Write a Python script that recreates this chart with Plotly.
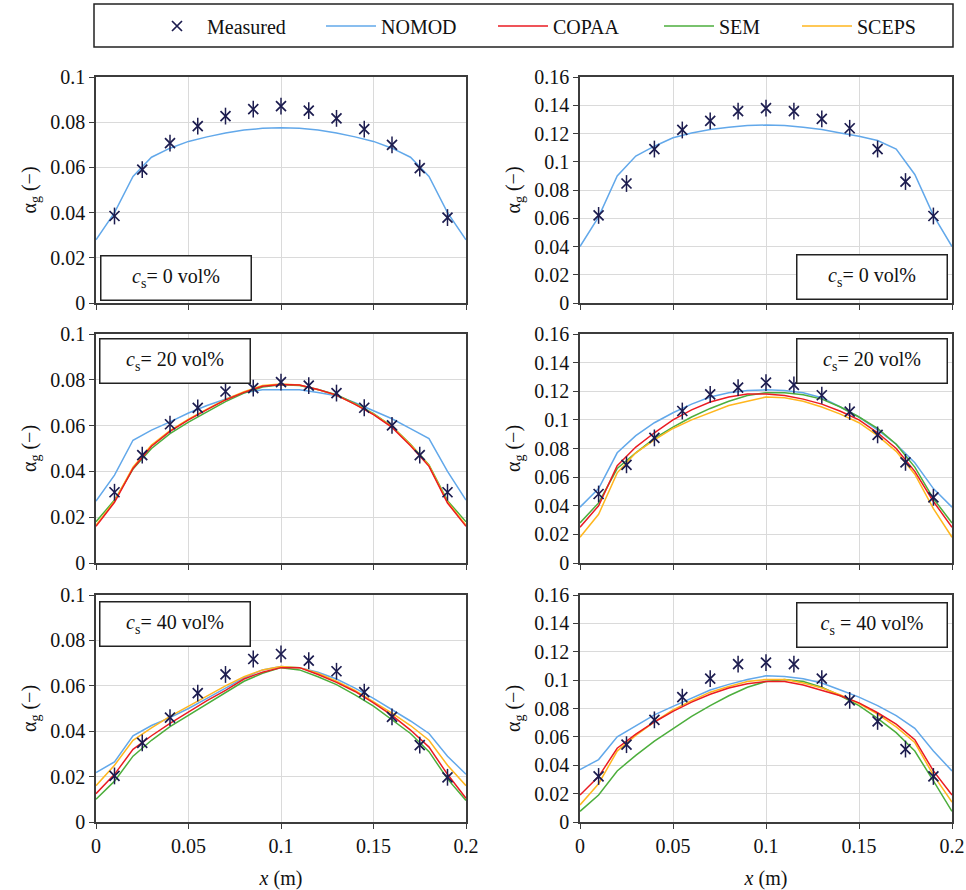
import plotly.graph_objects as go

# ---------------- data ----------------
X_MEAS = [0.01, 0.025, 0.04, 0.055, 0.07, 0.085, 0.1, 0.115, 0.13, 0.145, 0.16, 0.175, 0.19]
X_MODEL = [0.0, 0.01, 0.02, 0.03, 0.04, 0.05, 0.06, 0.07, 0.08, 0.09, 0.1,
           0.11, 0.12, 0.13, 0.14, 0.15, 0.16, 0.17, 0.18, 0.19, 0.2]

# cs = 0 vol%, left column
MEAS_L0 = [0.0385, 0.059, 0.0707, 0.0783, 0.0827, 0.0858, 0.0871, 0.0851, 0.0817, 0.0769, 0.0700, 0.0597, 0.0378]
NOMOD_L0 = [0.028, 0.040, 0.056, 0.0645, 0.0685, 0.0715, 0.0735, 0.0752, 0.0765, 0.0773, 0.0775,
            0.0773, 0.0765, 0.0752, 0.0735, 0.0715, 0.0685, 0.0645, 0.056, 0.040, 0.028]
# cs = 0 vol%, right column
MEAS_R0 = [0.062, 0.0846, 0.109, 0.1225, 0.129, 0.1358, 0.1379, 0.1358, 0.1303, 0.1237, 0.109, 0.086, 0.0616]
NOMOD_R0 = [0.040, 0.061, 0.090, 0.104, 0.111, 0.117, 0.1204, 0.1228, 0.1244, 0.1256, 0.126,
            0.1256, 0.1244, 0.1228, 0.1204, 0.118, 0.115, 0.109, 0.091, 0.062, 0.040]

# cs = 20 vol%, left column
MEAS_L20 = [0.0309, 0.0471, 0.0606, 0.0677, 0.0749, 0.0764, 0.079, 0.0775, 0.0742, 0.0678, 0.0601, 0.0471, 0.0309]
NOMOD_L20 = [0.027, 0.0384, 0.0536, 0.058, 0.0616, 0.0655, 0.0688, 0.0717, 0.0743, 0.0757, 0.0758,
             0.0757, 0.0745, 0.073, 0.070, 0.0665, 0.063, 0.0587, 0.0543, 0.040, 0.0275]
COPAA_L20 = [0.016, 0.0265, 0.0413, 0.051, 0.0575, 0.0625, 0.067, 0.0712, 0.0745, 0.0772, 0.078,
             0.0777, 0.0758, 0.0733, 0.0693, 0.0648, 0.0592, 0.0512, 0.0422, 0.0262, 0.016]
SEM_L20 = [0.018, 0.0275, 0.041, 0.050, 0.0565, 0.0615, 0.066, 0.0705, 0.0742, 0.0768, 0.0778,
           0.0775, 0.0758, 0.0735, 0.0697, 0.0652, 0.0597, 0.0518, 0.0428, 0.0272, 0.018]
SCEPS_L20 = [0.0165, 0.027, 0.0418, 0.0515, 0.0578, 0.0628, 0.0672, 0.0714, 0.0748, 0.0775, 0.0782,
             0.0777, 0.0757, 0.0732, 0.0694, 0.065, 0.0596, 0.0516, 0.0426, 0.0266, 0.0165]
# cs = 20 vol%, right column
MEAS_R20 = [0.0482, 0.0686, 0.0874, 0.1062, 0.1178, 0.1225, 0.126, 0.1245, 0.1172, 0.1058, 0.0895, 0.0703, 0.0459]
NOMOD_R20 = [0.039, 0.052, 0.077, 0.089, 0.098, 0.105, 0.111, 0.116, 0.119, 0.1205, 0.121,
             0.1205, 0.119, 0.1155, 0.109, 0.102, 0.093, 0.083, 0.070, 0.052, 0.039]
COPAA_R20 = [0.025, 0.040, 0.068, 0.081, 0.091, 0.100, 0.107, 0.1125, 0.116, 0.118, 0.118,
             0.117, 0.1145, 0.111, 0.106, 0.100, 0.091, 0.080, 0.064, 0.043, 0.025]
SEM_R20 = [0.028, 0.042, 0.066, 0.077, 0.087, 0.095, 0.102, 0.108, 0.113, 0.117, 0.119,
           0.119, 0.1175, 0.1145, 0.109, 0.102, 0.094, 0.083, 0.067, 0.045, 0.028]
SCEPS_R20 = [0.018, 0.034, 0.063, 0.077, 0.086, 0.094, 0.100, 0.105, 0.110, 0.113, 0.116,
             0.1155, 0.113, 0.109, 0.104, 0.098, 0.089, 0.078, 0.062, 0.038, 0.018]

# cs = 40 vol%, left column
MEAS_L40 = [0.0203, 0.0349, 0.046, 0.0568, 0.065, 0.0718, 0.074, 0.0711, 0.0664, 0.0572, 0.0463, 0.0339, 0.0197]
NOMOD_L40 = [0.0218, 0.0265, 0.038, 0.0425, 0.046, 0.050, 0.0545, 0.059, 0.0635, 0.067, 0.0685,
             0.068, 0.066, 0.063, 0.059, 0.0545, 0.0495, 0.0445, 0.039, 0.029, 0.021]
COPAA_L40 = [0.0125, 0.021, 0.032, 0.038, 0.0435, 0.0485, 0.0535, 0.058, 0.063, 0.066, 0.068,
             0.068, 0.065, 0.0615, 0.0575, 0.0525, 0.047, 0.0405, 0.033, 0.021, 0.0105]
SEM_L40 = [0.010, 0.018, 0.029, 0.036, 0.042, 0.047, 0.052, 0.057, 0.062, 0.0655, 0.068,
           0.067, 0.064, 0.0605, 0.056, 0.051, 0.045, 0.039, 0.031, 0.019, 0.0095]
SCEPS_L40 = [0.016, 0.025, 0.036, 0.0415, 0.0465, 0.051, 0.0555, 0.060, 0.064, 0.067, 0.0685,
             0.068, 0.0655, 0.062, 0.058, 0.053, 0.048, 0.0425, 0.036, 0.025, 0.016]
# cs = 40 vol%, right column
MEAS_R40 = [0.0321, 0.0545, 0.072, 0.088, 0.101, 0.1113, 0.1124, 0.1113, 0.101, 0.0857, 0.0709, 0.0514, 0.0321]
NOMOD_R40 = [0.0369, 0.044, 0.060, 0.068, 0.0755, 0.0815, 0.0875, 0.093, 0.097, 0.1005, 0.103,
             0.1025, 0.101, 0.098, 0.093, 0.088, 0.082, 0.075, 0.066, 0.050, 0.036]
COPAA_R40 = [0.019, 0.032, 0.052, 0.062, 0.0705, 0.078, 0.0845, 0.090, 0.0945, 0.0975, 0.099,
             0.099, 0.0965, 0.093, 0.089, 0.084, 0.077, 0.069, 0.058, 0.036, 0.019]
SEM_R40 = [0.0075, 0.019, 0.036, 0.047, 0.057, 0.066, 0.0745, 0.082, 0.089, 0.095, 0.099,
           0.1005, 0.099, 0.095, 0.089, 0.082, 0.073, 0.063, 0.050, 0.029, 0.0075]
SCEPS_R40 = [0.012, 0.027, 0.050, 0.061, 0.0705, 0.079, 0.0855, 0.0915, 0.0955, 0.099, 0.1005,
             0.1005, 0.098, 0.0945, 0.0895, 0.0835, 0.076, 0.067, 0.056, 0.033, 0.014]

PANEL_LABELS = ["<i>c</i><sub>s</sub>= 0 vol%", "<i>c</i><sub>s</sub>= 0 vol%",
                "<i>c</i><sub>s</sub>= 20 vol%", "<i>c</i><sub>s</sub>= 20 vol%",
                "<i>c</i><sub>s</sub>= 40 vol%", "<i>c</i><sub>s</sub> = 40 vol%"]
SERIES_NAMES = ["Measured", "NOMOD", "COPAA", "SEM", "SCEPS"]
X_TICKS = [0, 0.05, 0.1, 0.15, 0.2]
Y_MAX = [0.1, 0.16]

# ---------------- styles ----------------
W, H = 966, 890
FONT = "'Liberation Serif', 'Times New Roman', 'DejaVu Serif', serif"
TXT = "#111111"
COLORS = {"Measured": "#1c1c4f", "NOMOD": "#62a8ea", "COPAA": "#ea1b22",
          "SEM": "#4cae3c", "SCEPS": "#ffb61e"}
AXIS_COLOR = "#3c3c3c"
GRID_COLOR = "#dadada"

def fx(p):
    return p / W

def fy(p):
    return 1 - p / H

col_px = [(96, 466), (580, 952)]
row_px = [(77, 303), (334, 563), (595, 822)]

panels = [
    (0, 0, MEAS_L0, {"NOMOD": NOMOD_L0}),
    (0, 1, MEAS_R0, {"NOMOD": NOMOD_R0}),
    (1, 0, MEAS_L20, {"NOMOD": NOMOD_L20, "COPAA": COPAA_L20, "SEM": SEM_L20, "SCEPS": SCEPS_L20}),
    (1, 1, MEAS_R20, {"NOMOD": NOMOD_R20, "COPAA": COPAA_R20, "SEM": SEM_R20, "SCEPS": SCEPS_R20}),
    (2, 0, MEAS_L40, {"NOMOD": NOMOD_L40, "COPAA": COPAA_L40, "SEM": SEM_L40, "SCEPS": SCEPS_L40}),
    (2, 1, MEAS_R40, {"NOMOD": NOMOD_R40, "COPAA": COPAA_R40, "SEM": SEM_R40, "SCEPS": SCEPS_R40}),
]

box_px = [(100, 255), (796, 254), (99, 338), (796, 338), (99, 601), (796, 602)]

legend_ids = {"Measured": "legend", "NOMOD": "legend2", "COPAA": "legend3",
              "SEM": "legend4", "SCEPS": "legend5"}
legend_item_x = {"Measured": 147, "NOMOD": 321, "COPAA": 493, "SEM": 659, "SCEPS": 797}

fig = go.Figure()
shown = set()
layout = {}
annotations = []

for i, (r, c, meas, models) in enumerate(panels):
    n = i + 1
    xa = "x" if n == 1 else f"x{n}"
    ya = "y" if n == 1 else f"y{n}"
    for name in ["NOMOD", "SEM", "SCEPS", "COPAA"]:
        if name not in models:
            continue
        show = name not in shown
        shown.add(name)
        fig.add_trace(go.Scatter(
            x=X_MODEL, y=models[name], mode="lines", name=name,
            line=dict(color=COLORS[name], width=1.5),
            xaxis=xa, yaxis=ya, showlegend=show, legend=legend_ids[name]))
    show = "Measured" not in shown
    shown.add("Measured")
    fig.add_trace(go.Scatter(
        x=X_MEAS, y=meas, mode="markers", name="Measured",
        marker=dict(symbol="x-thin-open", size=10, color=COLORS["Measured"],
                    line=dict(width=1.7, color=COLORS["Measured"])),
        xaxis=xa, yaxis=ya, showlegend=show, legend="legend"))
    fig.add_trace(go.Scatter(
        x=X_MEAS, y=meas, mode="markers", name="Measured",
        marker=dict(symbol="line-ns-open", size=12, color=COLORS["Measured"],
                    line=dict(width=1.5, color=COLORS["Measured"])),
        xaxis=xa, yaxis=ya, showlegend=False, hoverinfo="skip"))

    x0, x1 = col_px[c]
    y0, y1 = row_px[r]
    xkey = "xaxis" if n == 1 else f"xaxis{n}"
    ykey = "yaxis" if n == 1 else f"yaxis{n}"
    layout[xkey] = dict(
        domain=[fx(x0), fx(x1)], anchor=ya, range=[0, 0.2],
        tickvals=X_TICKS, showticklabels=(r == 2),
        ticks="outside", ticklen=5, tickwidth=1.2, tickcolor=AXIS_COLOR,
        showline=True, linecolor=AXIS_COLOR, linewidth=1.5, mirror=True,
        showgrid=True, gridcolor=GRID_COLOR, gridwidth=1, zeroline=False,
        automargin=False,
        tickfont=dict(family=FONT, size=20, color=TXT),
        title=dict(text="<i>x</i> (m)" if r == 2 else "",
                   font=dict(family=FONT, size=20, color=TXT), standoff=15),
    )
    layout[ykey] = dict(
        domain=[fy(y1), fy(y0)], anchor=xa, range=[0, Y_MAX[c]], dtick=0.02,
        ticks="outside", ticklen=5, tickwidth=1.2, tickcolor=AXIS_COLOR,
        showline=True, linecolor=AXIS_COLOR, linewidth=1.5, mirror=True,
        showgrid=True, gridcolor=GRID_COLOR, gridwidth=1, zeroline=False,
        automargin=False,
        tickfont=dict(family=FONT, size=20, color=TXT),
        title=dict(text="α<sub>g</sub> (−)", font=dict(family=FONT, size=20, color=TXT),
                   standoff=8),
    )
    bx, by = box_px[i]
    annotations.append(dict(
        xref="paper", yref="paper", x=fx(bx), y=fy(by), xanchor="left", yanchor="top",
        text=PANEL_LABELS[i], showarrow=False, align="center",
        font=dict(family=FONT, size=20, color=TXT),
        width=145, height=39, borderpad=2, bordercolor="#222222", borderwidth=1.5,
        bgcolor="white"))

legend_common = dict(orientation="h", xanchor="left", yanchor="middle", y=fy(26),
                     bgcolor="rgba(0,0,0,0)", borderwidth=0, itemwidth=50,
                     font=dict(family=FONT, size=20, color=TXT))
legends = {}
for name, lid in legend_ids.items():
    legends[lid] = dict(legend_common, x=fx(legend_item_x[name]))

fig.update_layout(
    width=W, height=H, margin=dict(l=0, r=0, t=0, b=0),
    paper_bgcolor="white", plot_bgcolor="white",
    font=dict(family=FONT, size=20, color=TXT),
    annotations=annotations,
    shapes=[dict(type="rect", xref="paper", yref="paper",
                 x0=fx(94), x1=fx(953), y0=fy(4), y1=fy(47),
                 line=dict(color="#222222", width=1.5), fillcolor="rgba(0,0,0,0)")],
    **layout, **legends,
)

fig.write_html("out.html")
